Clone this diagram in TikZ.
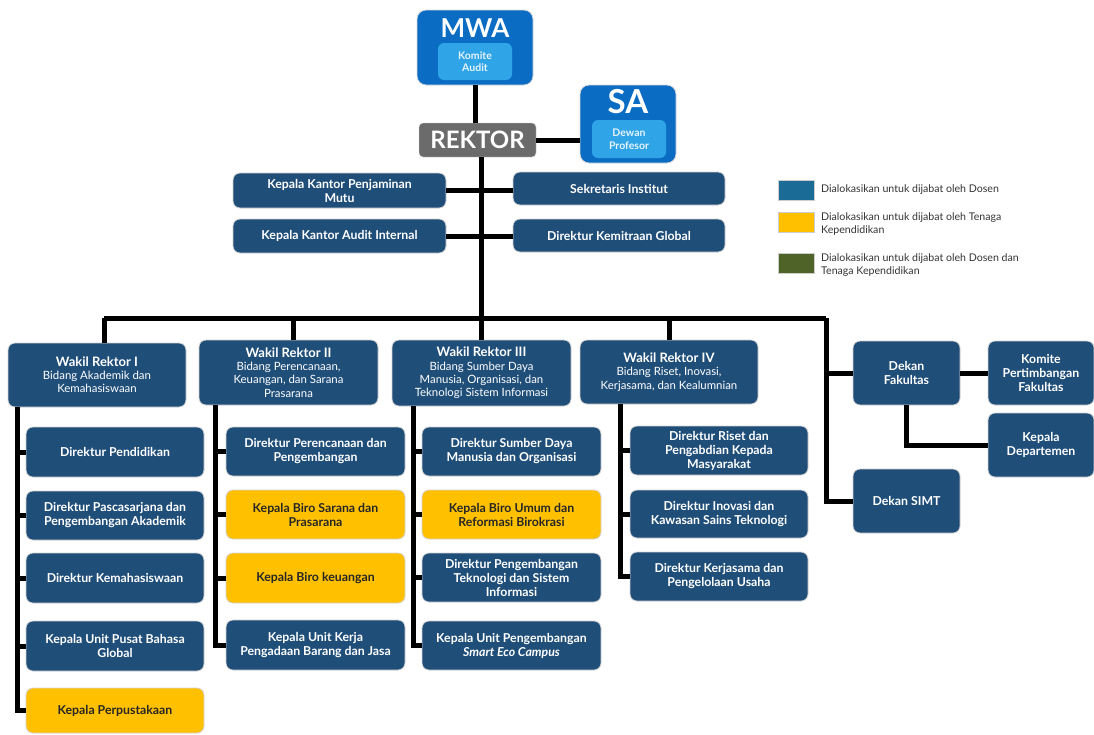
\documentclass[tikz,border=0pt]{standalone}
\usepackage{fontspec}
\setmainfont{Lato}
\definecolor{boxblue}{HTML}{1F4E79}
\definecolor{mwablue}{HTML}{0B6CC4}
\definecolor{lightblue}{HTML}{2FA4E7}
\definecolor{rekgray}{HTML}{6B6B6B}
\definecolor{ybox}{HTML}{FFC000}
\definecolor{legblue}{HTML}{1A6B95}
\definecolor{legolive}{HTML}{4F6228}
\newcommand{\wrtfont}{\bfseries\fontsize{13}{14}\selectfont}
\tikzset{
  ob/.style={rounded corners=7pt, fill=boxblue, draw=gray!35, line width=0.8pt, text=white,
    font=\bfseries\fontsize{12.3}{14}\selectfont, align=center, inner sep=2pt},
  yb/.style={ob, fill=ybox, text=black!85},
  wr/.style={ob, font=\fontsize{11.4}{13.2}\selectfont},
  ln/.style={line width=5pt, black},
  legsq/.style={draw=gray!40, line width=0.6pt, minimum width=36pt, minimum height=20pt, inner sep=0pt},
  legtx/.style={anchor=west, align=left, text=black!80, font=\fontsize{10.6}{13}\selectfont, inner sep=0pt},
  top/.style={rounded corners=9pt, fill=mwablue, draw=gray!30, line width=0.8pt, inner sep=0pt},
  inner/.style={rounded corners=6pt, fill=lightblue, text=white!88!lightblue, align=center,
    font=\bfseries\fontsize{10.5}{12.5}\selectfont, inner sep=0pt},
}
\begin{document}
\begin{tikzpicture}[x=1pt,y=-1pt]
\useasboundingbox (0,0) rectangle (1094,734);
% top
\node[top, minimum width=116pt, minimum height=75pt] (mwa) at (475,47.5) {};
\node[text=white, font=\bfseries\fontsize{26}{26}\selectfont, inner sep=0pt] (mwat) at (475,28) {MWA};
\node[inner, minimum width=74pt, minimum height=37pt] (ka) at (475,61.5) {Komite\\Audit};
\node[top, minimum width=96pt, minimum height=78pt] (sa) at (628,124) {};
\node[text=white, font=\bfseries\fontsize{33}{33}\selectfont, inner sep=0pt] (sat) at (628,102) {SA};
\node[inner, minimum width=74pt, minimum height=38pt] (dp) at (629,139) {Dewan\\Profesor};
\node[rounded corners=4pt, fill=rekgray, draw=gray!30, text=white, font=\bfseries\fontsize{24}{24}\selectfont,
  minimum width=117pt, minimum height=34pt, inner sep=0pt] (rektor) at (477.5,140) {REKTOR};
\coordinate (hub) at (481,318);
\draw[ln] (mwa.south) -- (mwa.south |- rektor.north);
\draw[ln] (rektor.east) -- (rektor.east -| sa.west);
% staff
\node[ob, minimum width=213pt, minimum height=35pt] (kkpm) at (339.5,190.5) {Kepala Kantor Penjaminan\\Mutu};
\node[ob, minimum width=212pt, minimum height=33pt] (sek) at (619,188.5) {Sekretaris Institut};
\node[ob, minimum width=213pt, minimum height=34pt] (kai) at (339.5,236) {Kepala Kantor Audit Internal};
\node[ob, minimum width=212pt, minimum height=33pt] (dkg) at (619,235.5) {Direktur Kemitraan Global};
\draw[ln] (kkpm.east) -- (kkpm.east -| sek.west);
\draw[ln] (kai.east) -- (kai.east -| dkg.west);
\draw[ln] (rektor.south -| hub) -- (hub);
% wakil rektor
\node[wr, minimum width=178pt, minimum height=64pt] (wr1) at (97,375) {{\wrtfont Wakil Rektor I}\\Bidang Akademik dan\\Kemahasiswaan};
\node[wr, minimum width=179pt, minimum height=65pt] (wr2) at (288.5,372.5) {{\wrtfont Wakil Rektor II}\\Bidang Perencanaan,\\Keuangan, dan Sarana\\Prasarana};
\node[wr, minimum width=179pt, minimum height=66pt] (wr3) at (481.5,373) {{\wrtfont Wakil Rektor III}\\Bidang Sumber Daya\\Manusia, Organisasi, dan\\Teknologi Sistem Informasi};
\node[wr, minimum width=178pt, minimum height=64pt] (wr4) at (669,372) {{\wrtfont Wakil Rektor IV}\\Bidang Riset, Inovasi,\\Kerjasama, dan Kealumnian};
% dekan
\node[ob, minimum width=107pt, minimum height=64pt] (df) at (906.5,373) {Dekan\\Fakultas};
\node[ob, minimum width=106pt, minimum height=64pt] (kpf) at (1041,373) {Komite\\Pertimbangan\\Fakultas};
\node[ob, minimum width=106pt, minimum height=64pt] (kd) at (1041,445) {Kepala\\Departemen};
\node[ob, minimum width=107pt, minimum height=64pt] (ds) at (906.5,501) {Dekan SIMT};
% bus
\coordinate (b1) at (104,318);
\coordinate (b2) at (293,318);
\coordinate (b4) at (669,318);
\coordinate (b5) at (826,318);
\draw[ln] (b1) -- (b5);
\draw[ln] (b1) -- (b1 |- wr1.north);
\draw[ln] (b2) -- (b2 |- wr2.north);
\draw[ln] (hub) -- (hub |- wr3.north);
\draw[ln] (b4) -- (b4 |- wr4.north);
\draw[ln] (b5) |- (ds.west);
\draw[ln] (df.west -| b5) -- (df.west);
\draw[ln] (df.east) -- (kpf.west);
\draw[ln] (df.south) |- (kd.west);
% column I
\node[ob, minimum width=178pt, minimum height=50pt] (c11) at (115,452) {Direktur Pendidikan};
\node[ob, minimum width=178pt, minimum height=49pt] (c12) at (115,515.5) {Direktur Pascasarjana dan\\Pengembangan Akademik};
\node[ob, minimum width=178pt, minimum height=50pt] (c13) at (115,578) {Direktur Kemahasiswaan};
\node[ob, minimum width=178pt, minimum height=50pt] (c14) at (115,646) {Kepala Unit Pusat Bahasa\\Global};
\node[yb, minimum width=178pt, minimum height=45pt] (c15) at (115,710.5) {Kepala Perpustakaan};
\coordinate (t1) at (17,407);
\draw[ln] (t1) |- (c15.west);
\foreach \n in {c11,c12,c13,c14} \draw[ln] (\n.west -| t1) -- (\n.west);
% column II
\node[ob, minimum width=179pt, minimum height=49pt] (c21) at (315.5,451.5) {Direktur Perencanaan dan\\Pengembangan};
\node[yb, minimum width=179pt, minimum height=49pt] (c22) at (315.5,514.5) {Kepala Biro Sarana dan\\Prasarana};
\node[yb, minimum width=179pt, minimum height=50pt] (c23) at (315.5,578) {Kepala Biro keuangan};
\node[ob, minimum width=179pt, minimum height=50pt] (c24) at (315.5,645) {Kepala Unit Kerja\\Pengadaan Barang dan Jasa};
\coordinate (t2) at (215,405);
\draw[ln] (t2) |- (c24.west);
\foreach \n in {c21,c22,c23} \draw[ln] (\n.west -| t2) -- (\n.west);
% column III
\node[ob, minimum width=179pt, minimum height=49pt] (c31) at (511.5,451.5) {Direktur Sumber Daya\\Manusia dan Organisasi};
\node[yb, minimum width=179pt, minimum height=49pt] (c32) at (511.5,514.5) {Kepala Biro Umum dan\\Reformasi Birokrasi};
\node[ob, minimum width=179pt, minimum height=49pt] (c33) at (511.5,577.5) {Direktur Pengembangan\\Teknologi dan Sistem\\Informasi};
\node[ob, minimum width=179pt, minimum height=49pt] (c34) at (511.5,645.5) {Kepala Unit Pengembangan\\\textit{Smart Eco Campus}};
\coordinate (t3) at (413,406);
\draw[ln] (t3) |- (c34.west);
\foreach \n in {c31,c32,c33} \draw[ln] (\n.west -| t3) -- (\n.west);
% column IV
\node[ob, minimum width=178pt, minimum height=49pt] (c41) at (719,450.5) {Direktur Riset dan\\Pengabdian Kepada\\Masyarakat};
\node[ob, minimum width=178pt, minimum height=48pt] (c42) at (719,514) {Direktur Inovasi dan\\Kawasan Sains Teknologi};
\node[ob, minimum width=178pt, minimum height=49pt] (c43) at (719,576.5) {Direktur Kerjasama dan\\Pengelolaan Usaha};
\coordinate (t4) at (620,404);
\draw[ln] (t4) |- (c43.west);
\foreach \n in {c41,c42} \draw[ln] (\n.west -| t4) -- (\n.west);
% legend
\node[legsq, fill=legblue] (l1) at (796,190) {};
\node[legsq, fill=ybox] (l2) at (796,222.5) {};
\node[legsq, fill=legolive] (l3) at (796,263) {};
\node[legtx] (l1t) at (821,190) {Dialokasikan untuk dijabat oleh Dosen};
\node[legtx] (l2t) at (821,224) {Dialokasikan untuk dijabat oleh Tenaga\\Kependidikan};
\node[legtx] (l3t) at (821,265) {Dialokasikan untuk dijabat oleh Dosen dan\\Tenaga Kependidikan};
\end{tikzpicture}
\end{document}
